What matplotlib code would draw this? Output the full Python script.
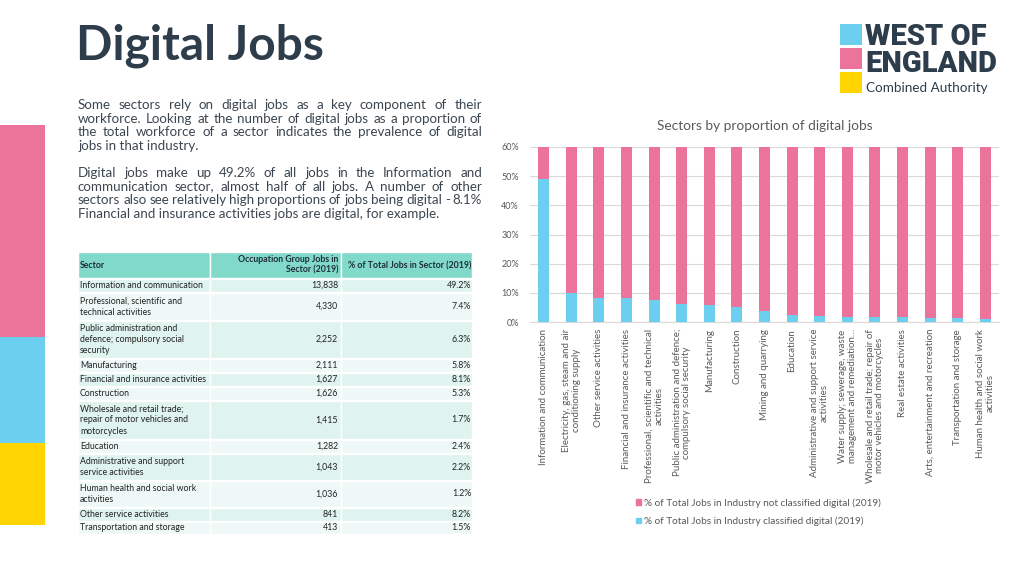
import matplotlib
matplotlib.use("Agg")
import matplotlib.pyplot as plt
from matplotlib.patches import Rectangle, Patch

plt.rcParams['font.family'] = ['Lato', 'DejaVu Sans']

PINK = '#ec7399'
BLUE = '#6dcff0'
YELLOW = '#ffd400'
DARK = '#2e3d4b'
TXT = '#3b4650'
GREY = '#595959'

# chart data (sorted by digital share)
sectors = [
    "Information and communication",
    "Electricity, gas, steam and air\nconditioning supply",
    "Other service activities",
    "Financial and insurance activities",
    "Professional, scientific and technical\nactivities",
    "Public administration and defence;\ncompulsory social security",
    "Manufacturing",
    "Construction",
    "Mining and quarrying",
    "Education",
    "Administrative and support service\nactivities",
    "Water supply; sewerage, waste\nmanagement and remediation…",
    "Wholesale and retail trade; repair of\nmotor vehicles and motorcycles",
    "Real estate activities",
    "Arts, entertainment and recreation",
    "Transportation and storage",
    "Human health and social work\nactivities",
]
digital = [49.2, 9.9, 8.2, 8.1, 7.4, 6.3, 5.8, 5.3, 3.7, 2.4, 2.2, 1.8, 1.7, 1.6, 1.5, 1.5, 1.2]
not_digital = [100 - v for v in digital]

# table data
tbl_sector = [
    "Information and communication",
    "Professional, scientific and\ntechnical activities",
    "Public administration and\ndefence; compulsory social\nsecurity",
    "Manufacturing",
    "Financial and insurance activities",
    "Construction",
    "Wholesale and retail trade;\nrepair of motor vehicles and\nmotorcycles",
    "Education",
    "Administrative and support\nservice activities",
    "Human health and social work\nactivities",
    "Other service activities",
    "Transportation and storage",
]
tbl_jobs = ["13,838", "4,330", "2,252", "2,111", "1,627", "1,626", "1,415",
            "1,282", "1,043", "1,036", "841", "413"]
tbl_pct = ["49.2%", "7.4%", "6.3%", "5.8%", "8.1%", "5.3%", "1.7%",
           "2.4%", "2.2%", "1.2%", "8.2%", "1.5%"]
tbl_headers = ["Sector", "Occupation Group Jobs in\nSector (2019)", "% of Total Jobs in Sector (2019)"]

para1 = ["Some sectors rely on digital jobs as a key component of their",
         "workforce. Looking at the number of digital jobs as a proportion of",
         "the total workforce of a sector indicates the prevalence of digital",
         "jobs in that industry."]
para2 = ["Digital jobs make up 49.2% of all jobs in the Information and",
         "communication sector, almost half of all jobs. A number of other",
         "sectors also see relatively high proportions of jobs being digital - 8.1%",
         "Financial and insurance activities jobs are digital, for example."]

fig = plt.figure(figsize=(10.24, 5.76), dpi=100)
fig.patch.set_facecolor('white')

bg = fig.add_axes([0, 0, 1, 1])
bg.set_xlim(0, 1024)
bg.set_ylim(576, 0)
bg.axis('off')

# side strip
bg.add_patch(Rectangle((0, 125), 45, 212, color=PINK, lw=0))
bg.add_patch(Rectangle((0, 337), 45, 106, color=BLUE, lw=0))
bg.add_patch(Rectangle((0, 443), 45, 82, color=YELLOW, lw=0))

# logo
bg.add_patch(Rectangle((840, 24), 22, 21, color=BLUE, lw=0))
bg.add_patch(Rectangle((840, 48), 22, 21, color=PINK, lw=0))
bg.add_patch(Rectangle((840, 72), 22, 21, color=YELLOW, lw=0))
bg.text(865, 37, "WEST OF", fontsize=21, fontweight='heavy', color=DARK,
        va='center', ha='left', family=['Roboto', 'DejaVu Sans'])
bg.text(865, 64, "ENGLAND", fontsize=21, fontweight='heavy', color=DARK,
        va='center', ha='left', family=['Roboto', 'DejaVu Sans'])
bg.text(866, 88, "Combined Authority", fontsize=9.7, color=DARK, va='center', ha='left')

# title
bg.text(76, 46, "Digital Jobs", fontsize=34.5, fontweight='bold', color=DARK,
        va='center', ha='left')

renderer = fig.canvas.get_renderer()


def justified(lines, y0, dy, x0=78, x1=482, fs=9.6):
    for i, line in enumerate(lines):
        y = y0 + i * dy
        words = line.split()
        if i == len(lines) - 1:
            bg.text(x0, y, line, fontsize=fs, color=TXT, va='center', ha='left')
            continue
        ts = [bg.text(0, y, w, fontsize=fs, color=TXT, va='center', ha='left') for w in words]
        ws = [t.get_window_extent(renderer).width for t in ts]
        gap = (x1 - x0 - sum(ws)) / (len(words) - 1)
        x = x0
        for t, w in zip(ts, ws):
            t.set_x(x)
            x += w + gap


justified(para1, 105, 13.6)
justified(para2, 173, 13.6)

# table
col_x = [78, 210, 341, 472]
row_edges = [252, 278, 292, 320, 358, 372, 386, 400, 439, 453, 480, 507, 521, 534]
head_col = '#80d9c9'
fs_t = 6.3
for c in range(3):
    bg.add_patch(Rectangle((col_x[c], row_edges[0]), col_x[c + 1] - col_x[c],
                           row_edges[1] - row_edges[0], facecolor=head_col,
                           edgecolor='white', lw=1))
ymid = (row_edges[0] + row_edges[1]) / 2
bg.text(80, ymid + 1, tbl_headers[0], fontsize=fs_t, fontweight='bold', color='#1f2d3a', va='center')
bg.text(338, ymid, tbl_headers[1], fontsize=fs_t, fontweight='bold', color='#1f2d3a',
        va='center', ha='right', multialignment='right')
bg.text(471, ymid + 1, tbl_headers[2], fontsize=fs_t, fontweight='bold', color='#1f2d3a',
        va='center', ha='right')

for i in range(len(tbl_sector)):
    top = row_edges[i + 1] + 1
    bot = row_edges[i + 2]
    fc = '#dff3ef' if i % 2 == 0 else '#eef9f7'
    for c in range(3):
        bg.add_patch(Rectangle((col_x[c], top), col_x[c + 1] - col_x[c], bot - top,
                               facecolor=fc, edgecolor='white', lw=1))
    ym = (top + bot) / 2
    bg.text(80, ym, tbl_sector[i], fontsize=fs_t, color='#222222', va='center',
            ha='left', linespacing=1.3)
    bg.text(338, ym, tbl_jobs[i], fontsize=fs_t, color='#222222', va='center', ha='right')
    bg.text(471, ym, tbl_pct[i], fontsize=fs_t, color='#222222', va='center', ha='right')

# chart
ax = fig.add_axes([530 / 1024, (576 - 322) / 576, 469 / 1024, 175 / 576])
pos = list(range(len(sectors)))
ax.bar(pos, digital, width=0.4, color=BLUE, zorder=3,
       label='% of Total Jobs in Industry classified digital (2019)')
ax.bar(pos, not_digital, width=0.4, bottom=digital, color=PINK, zorder=3,
       label='% of Total Jobs in Industry not classified digital (2019)')
ax.set_ylim(0, 60)
ax.set_xlim(-0.5, len(sectors) - 0.5)
ax.set_yticks([0, 10, 20, 30, 40, 50, 60])
ax.set_yticklabels([f"{v}%" for v in [0, 10, 20, 30, 40, 50, 60]])
ax.yaxis.grid(True, color='#d9d9d9', lw=0.8, zorder=0)
for s in ['top', 'right', 'left']:
    ax.spines[s].set_visible(False)
ax.spines['bottom'].set_color('#d9d9d9')
ax.tick_params(axis='y', length=0, labelsize=6.5, labelcolor=GREY, pad=8)
ax.tick_params(axis='x', length=0, labelsize=7, labelcolor=GREY, pad=5)
ax.set_xticks(pos)
ax.set_xticklabels(sectors, rotation=90, ha='center', va='top', linespacing=1.1)
ax.set_title("Sectors by proportion of digital jobs", fontsize=9.8, color=GREY, pad=12)

h = [Patch(color=PINK), Patch(color=BLUE)]
lab = ['% of Total Jobs in Industry not classified digital (2019)',
       '% of Total Jobs in Industry classified digital (2019)']
fig.legend(h, lab, loc='upper left', bbox_to_anchor=(632 / 1024, 1 - 494 / 576),
           frameon=False, fontsize=7.2, labelcolor=GREY, handlelength=0.5,
           handleheight=0.5, handletextpad=0.3, labelspacing=0.9, borderaxespad=0)

fig.savefig("out.png", dpi=100, facecolor='white')
